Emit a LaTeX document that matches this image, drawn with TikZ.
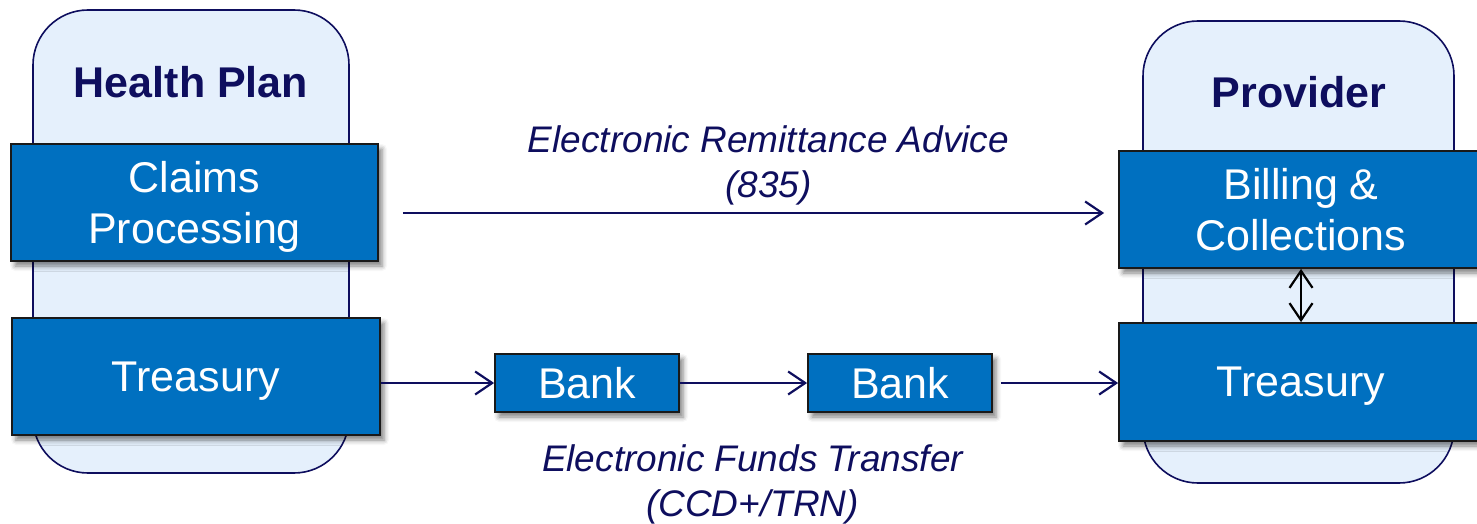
\documentclass[tikz,border=0pt]{standalone}
\usepackage{fontspec}
\setmainfont{Liberation Sans}
\usetikzlibrary{arrows.meta,shadows.blur}

\definecolor{boxblue}{HTML}{0070C0}
\definecolor{panelfill}{HTML}{E5F0FC}
\definecolor{navy}{HTML}{0E0E5E}

\tikzset{
  panel/.style={draw=navy, line width=1.6pt, fill=panelfill,
    rounded corners=55pt, inner sep=0pt},
  bluebox/.style={draw=black!90, line width=1.8pt, fill=boxblue, text=white,
    align=center, inner sep=0pt, text depth=-5pt,
    font=\fontsize{43}{51}\selectfont,
    blur shadow={shadow xshift=4pt, shadow yshift=-5pt,
      shadow blur radius=5pt, shadow opacity=50}},
  title/.style={text=navy, inner sep=0pt, font=\fontsize{43}{51}\selectfont\bfseries},
  caption/.style={text=navy, align=center, inner sep=0pt,
    font=\fontsize{37}{45}\selectfont\itshape},
  flow/.style={draw=navy, line width=2pt,
    -{Straight Barb[length=17pt,width=23pt,line width=2.2pt]}},
  sync/.style={draw=black, line width=2pt,
    {Straight Barb[length=17pt,width=23pt,line width=2.2pt]}-{Straight Barb[length=17pt,width=23pt,line width=2.2pt]}},
}

\begin{document}
\begin{tikzpicture}[x=1pt,y=-1pt]
\useasboundingbox (0,0) rectangle (1477,524);

% organisation panels
\node[panel, minimum width=316pt, minimum height=463pt] (hp) at (191,241.5) {};
\node[panel, minimum width=311pt, minimum height=462pt] (prov) at (1298.5,252) {};

\node[title] (hptitle) at (191,82.5) {Health Plan};
\node[title] (provtitle) at (1299,92) {Provider};

% departments
\node[bluebox, minimum width=367pt, minimum height=117pt] (claims) at (194.5,202.5) {Claims\\Processing};
\node[bluebox, minimum width=368pt, minimum height=117pt] (treasL) at (196,376.5) {Treasury};
\node[bluebox, minimum width=364pt, minimum height=117pt] (billing) at (1301,209.5) {Billing \&\\Collections};
\node[bluebox, minimum width=364pt, minimum height=118pt] (treasR) at (1301,382) {Treasury};

% banks
\node[bluebox, minimum width=184pt, minimum height=58pt] (bank1) at (587,383) {Bank};
\node[bluebox, minimum width=184pt, minimum height=58pt] (bank2) at (900,383) {Bank};

% remittance advice
\draw[flow, shorten >=14pt] ([xshift=24pt,yshift=-10.5pt]claims.east) coordinate (eraStart)
  -- (eraStart -| billing.west);
\node[caption] (eralabel) at (768.5,165.5) {Electronic Remittance Advice\\(835)};

% funds transfer
\draw[flow] (treasL.east |- bank1.west) -- (bank1.west);
\draw[flow] (bank1.east) -- (bank2.west);
\draw[flow, shorten <=8pt] (bank2.east) -- (treasR.west |- bank2.east);
\node[caption] (eftlabel) at (752.5,484.5) {Electronic Funds Transfer\\(CCD+/TRN)};

% reconciliation inside the provider
\draw[sync] (billing.south) -- (treasR.north);
\end{tikzpicture}
\end{document}
